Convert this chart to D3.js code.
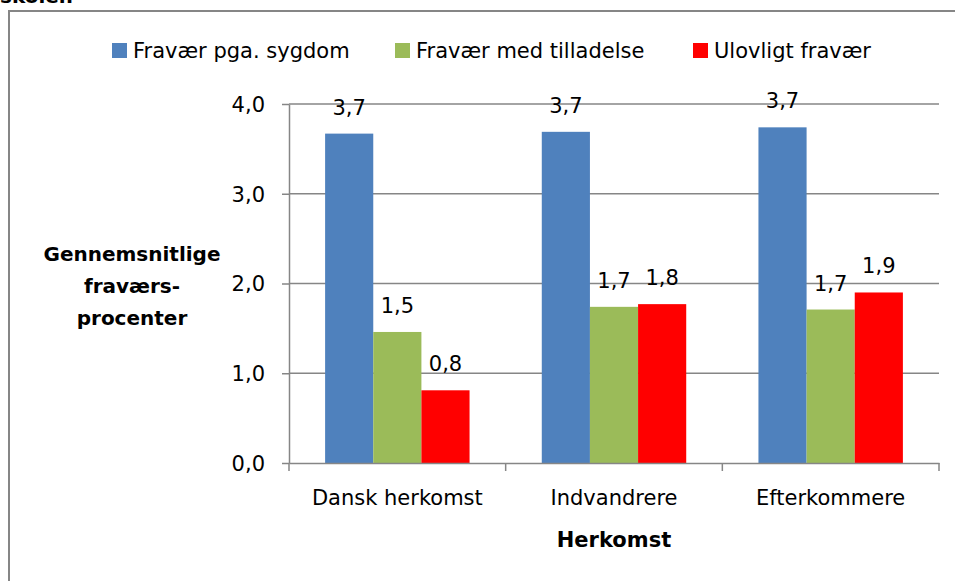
<!DOCTYPE html>
<html>
<head>
<meta charset="utf-8">
<script src="https://cdn.jsdelivr.net/npm/d3@7"></script>
<style>
  body { margin: 0; background: #fff; }
  svg text { font-family: "DejaVu Sans", sans-serif; fill: #000; }
</style>
</head>
<body>
<div id="container"></div>
<script>
/* DATA */
const categories = ["Dansk herkomst", "Indvandrere", "Efterkommere"];
const seriesNames = ["Fravær pga. sygdom", "Fravær med tilladelse", "Ulovligt fravær"];
const sygdom = [3.67, 3.69, 3.74];
const tilladelse = [1.46, 1.74, 1.71];
const ulovligt = [0.81, 1.77, 1.90];
const yTicks = [0, 1, 2, 3, 4];
const colors = ["#4F81BD", "#9BBB59", "#FF0000"];

const width = 955, height = 581;
const plot = { left: 289, right: 939, top: 104, bottom: 463 };
const fontSize = "21px";
const fmt = d => d3.format(".1f")(d).replace(".", ",");

// rows for the bars
const rows = categories.map((c, i) => ({
  cat: c,
  values: [sygdom[i], tilladelse[i], ulovligt[i]]
}));

const svg = d3.select("#container").append("svg")
  .attr("width", width)
  .attr("height", height);

// cut off heading above the chart frame (it is cut in the source too)
svg.append("text")
  .attr("x", 0).attr("y", 3)
  .style("font-weight", "bold")
  .style("font-size", "20px")
  .text("skoler.");

// chart frame
svg.append("rect")
  .attr("x", 9).attr("y", 11)
  .attr("width", 960).attr("height", 600)
  .attr("fill", "none")
  .attr("stroke", "#868686")
  .attr("stroke-width", 2);

/* SCALES */
const x0 = d3.scaleBand()
  .domain(categories)
  .range([plot.left, plot.right])
  .padding(0);

const gap = x0.bandwidth() * (1.5 / 4.5) / 2;
const x1 = d3.scaleBand()
  .domain(d3.range(3))
  .range([gap, x0.bandwidth() - gap])
  .padding(0);

const yScale = d3.scaleLinear()
  .domain([0, 4])
  .range([plot.bottom, plot.top]);

/* GRIDLINES */
svg.append("g")
  .selectAll("line")
  .data(yTicks.filter(d => d > 0))
  .join("line")
  .attr("x1", plot.left).attr("x2", plot.right)
  .attr("y1", d => yScale(d)).attr("y2", d => yScale(d))
  .attr("stroke", "#868686")
  .attr("stroke-width", 1.5);

/* Y AXIS */
const yAxis = d3.axisLeft(yScale)
  .tickValues(yTicks)
  .tickFormat(fmt)
  .tickSize(7)
  .tickSizeOuter(0)
  .tickPadding(17);

const yAxisGroup = svg.append("g")
  .attr("transform", `translate(${plot.left}, 0)`)
  .call(yAxis);
yAxisGroup.selectAll("path, line").attr("stroke", "#868686").attr("stroke-width", 1.5);
yAxisGroup.selectAll("text").style("font-size", fontSize).attr("dy", "0.35em");

/* BARS */
const groups = svg.append("g")
  .selectAll("g")
  .data(rows)
  .join("g")
  .attr("transform", d => `translate(${x0(d.cat)}, 0)`);

groups.selectAll("rect")
  .data(d => d.values)
  .join("rect")
  .attr("x", (d, i) => x1(i))
  .attr("y", d => yScale(d))
  .attr("width", x1.bandwidth())
  .attr("height", d => yScale(0) - yScale(d))
  .attr("fill", (d, i) => colors[i]);

groups.selectAll("text")
  .data(d => d.values)
  .join("text")
  .attr("x", (d, i) => x1(i) + x1.bandwidth() / 2)
  .attr("y", d => yScale(d) - 19)
  .attr("text-anchor", "middle")
  .style("font-size", fontSize)
  .text(fmt);

/* X AXIS */
const xAxis = d3.axisBottom(x0).tickSize(0).tickPadding(0);
const xAxisGroup = svg.append("g")
  .attr("transform", `translate(0, ${plot.bottom})`)
  .call(xAxis);
xAxisGroup.select(".domain").attr("stroke", "#868686").attr("stroke-width", 1.5);
xAxisGroup.selectAll("text")
  .attr("y", 42).attr("dy", 0)
  .style("font-size", fontSize);

// boundary ticks between categories
svg.append("g")
  .selectAll("line")
  .data([...categories.map(c => x0(c)), plot.right])
  .join("line")
  .attr("x1", d => d).attr("x2", d => d)
  .attr("y1", plot.bottom).attr("y2", plot.bottom + 8)
  .attr("stroke", "#868686")
  .attr("stroke-width", 1.5);

/* AXIS TITLES */
svg.append("text")
  .attr("x", (plot.left + plot.right) / 2)
  .attr("y", 547)
  .attr("text-anchor", "middle")
  .style("font-size", fontSize)
  .style("font-weight", "bold")
  .text("Herkomst");

svg.append("text")
  .attr("text-anchor", "middle")
  .style("font-size", "20px")
  .style("font-weight", "bold")
  .selectAll("tspan")
  .data(["Gennemsnitlige", "fraværs-", "procenter"])
  .join("tspan")
  .attr("x", 132)
  .attr("y", (d, i) => 261 + i * 32)
  .text(d => d);

/* LEGEND */
const legendX = [112, 395, 693];
const legend = svg.append("g")
  .selectAll("g")
  .data(seriesNames)
  .join("g")
  .attr("transform", (d, i) => `translate(${legendX[i]}, 43)`);

legend.append("rect")
  .attr("width", 15).attr("height", 15)
  .attr("fill", (d, i) => colors[i]);

legend.append("text")
  .attr("x", 21).attr("y", 15)
  .style("font-size", fontSize)
  .text(d => d);
</script>
</body>
</html>
